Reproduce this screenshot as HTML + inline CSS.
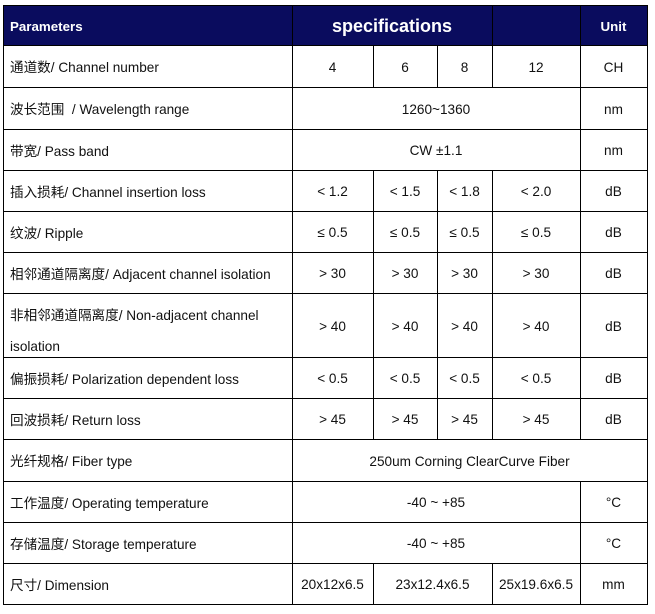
<!DOCTYPE html>
<html><head><meta charset="utf-8"><style>
body{margin:0;width:655px;height:614px;background:#fff;position:relative;overflow:hidden;font-family:"Liberation Sans","Noto Sans CJK SC",sans-serif;font-size:13.6px;color:#111}
.h{position:absolute;height:1px;background:#000;left:3px;width:645px}
.v{position:absolute;width:1px;background:#000}
.c{position:absolute;display:flex;align-items:center;justify-content:center;white-space:pre;padding-top:2px;box-sizing:border-box}
.l{position:absolute;display:flex;align-items:center;left:10px;white-space:pre;padding-top:0;box-sizing:border-box}
.w{color:#fff;font-weight:bold;font-size:13.33px}
</style></head><body>
<div style="position:absolute;left:3px;top:5px;width:645px;height:40px;background:#0a0c5e"></div>

<div class="h" style="top:5px"></div>
<div class="h" style="top:45px"></div>
<div class="h" style="top:87px"></div>
<div class="h" style="top:129px"></div>
<div class="h" style="top:170px"></div>
<div class="h" style="top:211px"></div>
<div class="h" style="top:252px"></div>
<div class="h" style="top:293px"></div>
<div class="h" style="top:357px"></div>
<div class="h" style="top:398px"></div>
<div class="h" style="top:439px"></div>
<div class="h" style="top:481px"></div>
<div class="h" style="top:522px"></div>
<div class="h" style="top:563px"></div>
<div class="h" style="top:604px"></div>

<div class="v" style="left:3px;top:5px;height:600px"></div>
<div class="v" style="left:647px;top:5px;height:600px"></div>
<div class="v" style="left:292px;top:5px;height:600px"></div>
<div class="v" style="left:580px;top:5px;height:434px"></div>
<div class="v" style="left:580px;top:481px;height:124px"></div>
<div class="v" style="left:492px;top:5px;height:82px"></div>
<div class="v" style="left:492px;top:170px;height:269px"></div>
<div class="v" style="left:492px;top:563px;height:42px"></div>
<div class="v" style="left:373px;top:45px;height:42px"></div>
<div class="v" style="left:373px;top:170px;height:269px"></div>
<div class="v" style="left:373px;top:563px;height:42px"></div>
<div class="v" style="left:437px;top:45px;height:42px"></div>
<div class="v" style="left:437px;top:170px;height:269px"></div>

<div class="l w" style="top:5px;height:40px;padding-top:2px">Parameters</div>
<div class="c w" style="left:292px;top:5px;width:200px;height:40px;font-size:18px">specifications</div>
<div class="c w" style="left:580px;top:5px;width:67px;height:40px">Unit</div>

<div class="l" style="top:45px;height:42px">通道数/ Channel number</div>
<div class="c" style="left:292px;top:45px;width:81px;height:42px">4</div>
<div class="c" style="left:373px;top:45px;width:64px;height:42px">6</div>
<div class="c" style="left:437px;top:45px;width:55px;height:42px">8</div>
<div class="c" style="left:492px;top:45px;width:88px;height:42px">12</div>
<div class="c" style="left:580px;top:45px;width:67px;height:42px">CH</div>

<div class="l" style="top:87px;height:42px">波长范围  / Wavelength range</div>
<div class="c" style="left:292px;top:87px;width:288px;height:42px">1260~1360</div>
<div class="c" style="left:580px;top:87px;width:67px;height:42px">nm</div>

<div class="l" style="top:129px;height:41px">带宽/ Pass band</div>
<div class="c" style="left:292px;top:129px;width:288px;height:41px">CW ±1.1</div>
<div class="c" style="left:580px;top:129px;width:67px;height:41px">nm</div>

<div class="l" style="top:170px;height:41px">插入损耗/ Channel insertion loss</div>
<div class="c" style="left:292px;top:170px;width:81px;height:41px">&lt; 1.2</div>
<div class="c" style="left:373px;top:170px;width:64px;height:41px">&lt; 1.5</div>
<div class="c" style="left:437px;top:170px;width:55px;height:41px">&lt; 1.8</div>
<div class="c" style="left:492px;top:170px;width:88px;height:41px">&lt; 2.0</div>
<div class="c" style="left:580px;top:170px;width:67px;height:41px">dB</div>

<div class="l" style="top:211px;height:41px">纹波/ Ripple</div>
<div class="c" style="left:292px;top:211px;width:81px;height:41px">≤ 0.5</div>
<div class="c" style="left:373px;top:211px;width:64px;height:41px">≤ 0.5</div>
<div class="c" style="left:437px;top:211px;width:55px;height:41px">≤ 0.5</div>
<div class="c" style="left:492px;top:211px;width:88px;height:41px">≤ 0.5</div>
<div class="c" style="left:580px;top:211px;width:67px;height:41px">dB</div>

<div class="l" style="top:252px;height:41px">相邻通道隔离度/ Adjacent channel isolation</div>
<div class="c" style="left:292px;top:252px;width:81px;height:41px">&gt; 30</div>
<div class="c" style="left:373px;top:252px;width:64px;height:41px">&gt; 30</div>
<div class="c" style="left:437px;top:252px;width:55px;height:41px">&gt; 30</div>
<div class="c" style="left:492px;top:252px;width:88px;height:41px">&gt; 30</div>
<div class="c" style="left:580px;top:252px;width:67px;height:41px">dB</div>

<div class="l" style="top:304px;height:20px">非相邻通道隔离度/ Non-adjacent channel</div>
<div class="l" style="top:336px;height:20px">isolation</div>
<div class="c" style="left:292px;top:293px;width:81px;height:64px">&gt; 40</div>
<div class="c" style="left:373px;top:293px;width:64px;height:64px">&gt; 40</div>
<div class="c" style="left:437px;top:293px;width:55px;height:64px">&gt; 40</div>
<div class="c" style="left:492px;top:293px;width:88px;height:64px">&gt; 40</div>
<div class="c" style="left:580px;top:293px;width:67px;height:64px">dB</div>

<div class="l" style="top:357px;height:41px">偏振损耗/ Polarization dependent loss</div>
<div class="c" style="left:292px;top:357px;width:81px;height:41px">&lt; 0.5</div>
<div class="c" style="left:373px;top:357px;width:64px;height:41px">&lt; 0.5</div>
<div class="c" style="left:437px;top:357px;width:55px;height:41px">&lt; 0.5</div>
<div class="c" style="left:492px;top:357px;width:88px;height:41px">&lt; 0.5</div>
<div class="c" style="left:580px;top:357px;width:67px;height:41px">dB</div>

<div class="l" style="top:398px;height:41px">回波损耗/ Return loss</div>
<div class="c" style="left:292px;top:398px;width:81px;height:41px">&gt; 45</div>
<div class="c" style="left:373px;top:398px;width:64px;height:41px">&gt; 45</div>
<div class="c" style="left:437px;top:398px;width:55px;height:41px">&gt; 45</div>
<div class="c" style="left:492px;top:398px;width:88px;height:41px">&gt; 45</div>
<div class="c" style="left:580px;top:398px;width:67px;height:41px">dB</div>

<div class="l" style="top:439px;height:42px">光纤规格/ Fiber type</div>
<div class="c" style="left:292px;top:439px;width:355px;height:42px">250um Corning ClearCurve Fiber</div>

<div class="l" style="top:481px;height:41px">工作温度/ Operating temperature</div>
<div class="c" style="left:292px;top:481px;width:288px;height:41px">-40 ~ +85</div>
<div class="c" style="left:580px;top:481px;width:67px;height:41px">°C</div>

<div class="l" style="top:522px;height:41px">存储温度/ Storage temperature</div>
<div class="c" style="left:292px;top:522px;width:288px;height:41px">-40 ~ +85</div>
<div class="c" style="left:580px;top:522px;width:67px;height:41px">°C</div>

<div class="l" style="top:563px;height:41px">尺寸/ Dimension</div>
<div class="c" style="left:292px;top:563px;width:81px;height:41px">20x12x6.5</div>
<div class="c" style="left:373px;top:563px;width:119px;height:41px">23x12.4x6.5</div>
<div class="c" style="left:492px;top:563px;width:88px;height:41px">25x19.6x6.5</div>
<div class="c" style="left:580px;top:563px;width:67px;height:41px">mm</div>
</body></html>
